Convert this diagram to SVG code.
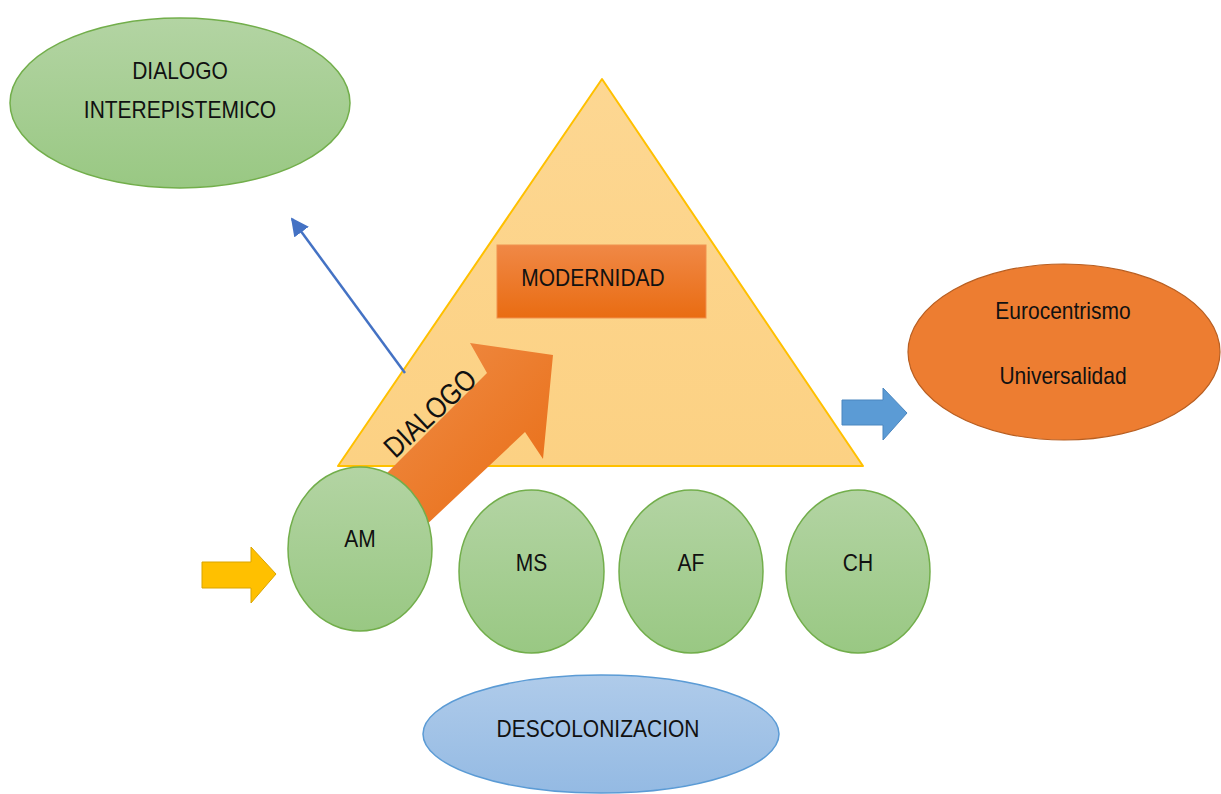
<svg xmlns="http://www.w3.org/2000/svg" width="1221" height="794" viewBox="0 0 1221 794">
<defs>
<linearGradient id="gGreen" x1="0" y1="0" x2="0" y2="1"><stop offset="0" stop-color="#B3D4A3"/><stop offset="1" stop-color="#99C883"/></linearGradient>
<linearGradient id="gBlue" x1="0" y1="0" x2="0" y2="1"><stop offset="0" stop-color="#AFCBEA"/><stop offset="1" stop-color="#94BAE3"/></linearGradient>
<linearGradient id="gOrangeRect" x1="0" y1="0" x2="0" y2="1"><stop offset="0" stop-color="#F08846"/><stop offset="1" stop-color="#E96C12"/></linearGradient>
<linearGradient id="gArrow" x1="0" y1="0" x2="1" y2="1"><stop offset="0" stop-color="#F0904C"/><stop offset="1" stop-color="#E86A10"/></linearGradient>
<linearGradient id="gTri" x1="0" y1="0" x2="0" y2="1"><stop offset="0" stop-color="#FDD792"/><stop offset="1" stop-color="#FCD183"/></linearGradient>
<marker id="mBlueBig" viewBox="0 0 10 10" markerWidth="18" markerHeight="18" refX="9" refY="5" orient="auto" markerUnits="userSpaceOnUse"><path d="M0,0 L10,5 L0,10 Z" fill="#4472C4"/></marker>
</defs>
<style>
.t{font-family:"Liberation Sans",Arial,sans-serif;fill:#111111;text-anchor:middle;dominant-baseline:central;font-size:21px}
.green{fill:url(#gGreen);stroke:#72AE4B;stroke-width:1.5}
</style>
<rect width="1221" height="794" fill="#FFFFFF"/>

<g id="dialogo-interepistemico">
<ellipse cx="180" cy="103" rx="170" ry="85" class="green"/>
<text class="t" transform="translate(180 70) scale(1 1.18)">DIALOGO</text>
<text class="t" transform="translate(180 109) scale(1 1.18)">INTEREPISTEMICO</text>
</g>

<g id="triangulo">
<polygon points="602,79 338,466 863,466" fill="url(#gTri)" stroke="#FFC000" stroke-width="2" stroke-linejoin="round"/>
</g>

<g id="modernidad">
<rect x="497" y="245" width="209" height="73" fill="url(#gOrangeRect)" stroke="#F0914F" stroke-width="1"/>
<text class="t" transform="translate(593 277) scale(1 1.18)">MODERNIDAD</text>
</g>

<g id="connectors">
<polygon points="360,500 487,373 470,343 553,355 543,459 525,432 405,545" fill="url(#gArrow)"/>
<text class="t" transform="translate(430 413) rotate(-43) scale(1 1.18)" style="font-size:25px">DIALOGO</text>
<line x1="405" y1="373" x2="292" y2="219" stroke="#4472C4" stroke-width="2.5" marker-end="url(#mBlueBig)"/>
<polygon points="842,400 883,400 883,388 907,413 883,440 883,425 842,425" fill="#5B9BD5" stroke="#4A86BF" stroke-width="1"/>
<polygon points="202,562 251,562 251,547 276,574 251,603 251,588 202,588" fill="#FFC000" stroke="#D9A400" stroke-width="1"/>
</g>

<g id="eurocentrismo">
<ellipse cx="1064" cy="352" rx="156" ry="88" fill="#ED7D31" stroke="#B85F22" stroke-width="1.2"/>
<text class="t" transform="translate(1063 310) scale(1 1.18)">Eurocentrismo</text>
<text class="t" transform="translate(1063 375) scale(1 1.18)">Universalidad</text>
</g>

<g id="am">
<ellipse cx="360" cy="549" rx="72" ry="82" class="green"/>
<text class="t" transform="translate(360 538) scale(1 1.18)">AM</text>
</g>
<g id="ms">
<ellipse cx="531.5" cy="571.5" rx="72.5" ry="81.5" class="green"/>
<text class="t" transform="translate(531.5 562) scale(1 1.18)">MS</text>
</g>
<g id="af">
<ellipse cx="691" cy="571.5" rx="72" ry="81.5" class="green"/>
<text class="t" transform="translate(691 562) scale(1 1.18)">AF</text>
</g>
<g id="ch">
<ellipse cx="858" cy="571.5" rx="72" ry="81.5" class="green"/>
<text class="t" transform="translate(858 562) scale(1 1.18)">CH</text>
</g>

<g id="descolonizacion">
<ellipse cx="601" cy="734" rx="178" ry="59" fill="url(#gBlue)" stroke="#5B9BD5" stroke-width="1.5"/>
<text class="t" transform="translate(598 728) scale(1 1.18)">DESCOLONIZACION</text>
</g>
</svg>
